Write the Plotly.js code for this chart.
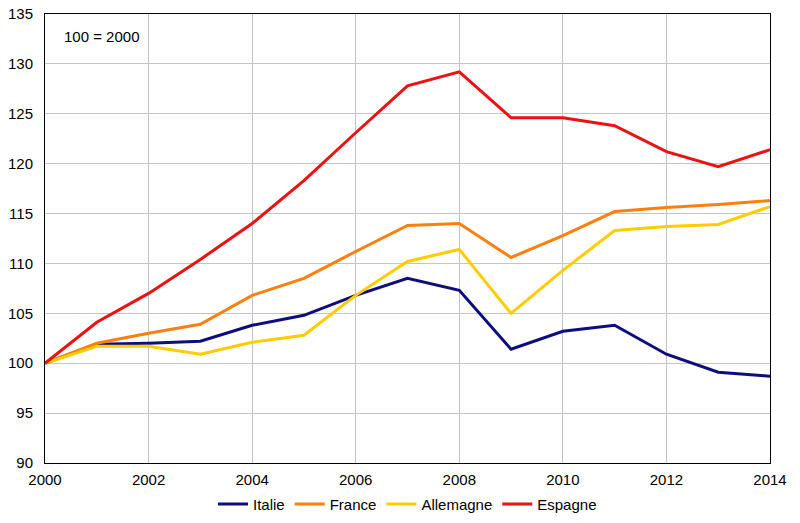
<!DOCTYPE html>
<html>
<head>
<meta charset="utf-8">
<script src="https://cdn.plot.ly/plotly-3.0.1.min.js"></script>
<style>html,body{margin:0;padding:0;background:#fff;}#chart{width:800px;height:523px;}</style>
</head>
<body>
<div id="chart"></div>
<script>
const years = [2000,2001,2002,2003,2004,2005,2006,2007,2008,2009,2010,2011,2012,2013,2014];
const italie    = [100,101.9,102.0,102.2,103.8,104.8,106.8,108.5,107.3,101.4,103.2,103.8,100.9,99.1,98.7];
const france    = [100,102.0,103.0,103.9,106.8,108.5,111.2,113.8,114.0,110.6,112.8,115.2,115.6,115.9,116.3];
const allemagne = [100,101.7,101.7,100.9,102.1,102.8,106.8,110.2,111.4,105.0,109.3,113.3,113.7,113.9,115.7];
const espagne   = [100,104.1,107.0,110.4,114.0,118.3,123.1,127.8,129.2,124.6,124.6,123.8,121.2,119.7,121.4];
const seriesNames = ['Italie','France','Allemagne','Espagne'];
const seriesColors = ['#0d0d80','#ff7f0e','#ffcc00','#ee1111'];
const seriesData = [italie, france, allemagne, espagne];

const traces = seriesData.map((d,i)=>({
  x: years, y: d, type:'scatter', mode:'lines', name: seriesNames[i],
  line:{color: seriesColors[i], width:3}
}));

const layout = {
  width:800, height:523,
  margin:{l:45, r:30, t:14, b:60},
  paper_bgcolor:'#ffffff', plot_bgcolor:'#ffffff',
  font:{family:'Liberation Sans, Arial, sans-serif', size:15, color:'#000'},
  showlegend:true,
  legend:{orientation:'h', x:0.5, xanchor:'center', yref:'container', y:0.036, yanchor:'middle', font:{size:15}, itemwidth:30, traceorder:'normal'},
  xaxis:{range:[2000,2014], dtick:2, tick0:2000, showgrid:true, gridcolor:'#c4c4c4', gridwidth:1,
    showline:true, linecolor:'#000', linewidth:1, mirror:true, ticks:'', zeroline:false, ticklabelstandoff:3, fixedrange:true},
  yaxis:{range:[90,135], dtick:5, tick0:90, showgrid:true, gridcolor:'#c4c4c4', gridwidth:1,
    showline:true, linecolor:'#000', linewidth:1, mirror:true, ticks:'', zeroline:false, ticklabelstandoff:8, fixedrange:true},
  annotations:[{text:'100 = 2000', xref:'paper', yref:'paper', x:0.023, y:0.95, xanchor:'left', yanchor:'middle', showarrow:false, font:{size:15}}]
};
Plotly.newPlot('chart', traces, layout, {displayModeBar:false, staticPlot:true});
</script>
</body>
</html>
